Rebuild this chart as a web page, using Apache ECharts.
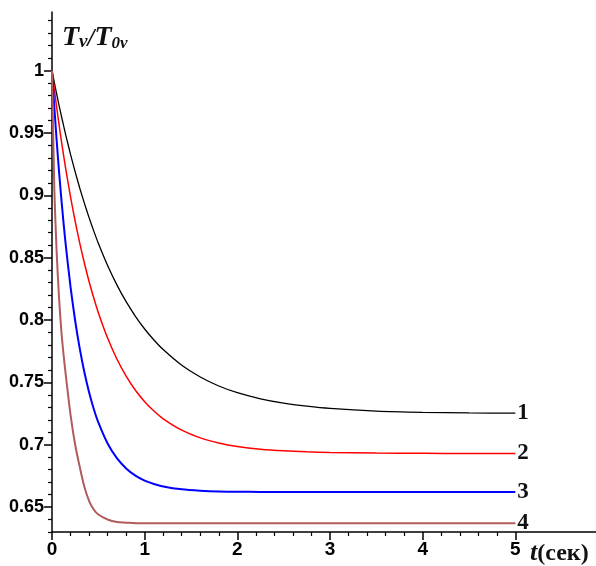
<!DOCTYPE html>
<html>
<head>
<meta charset="utf-8">
<script src="https://cdn.jsdelivr.net/npm/echarts@6/dist/echarts.min.js"></script>
<style>html,body{margin:0;padding:0;background:#fff}#c{width:596px;height:566px}</style>
</head>
<body>
<div id="c"></div>
<script>
// ---- data ----
var tVals  = [0,0.025,0.05,0.075,0.1,0.125,0.15,0.2,0.25,0.3,0.35,0.4,0.45,0.5,0.6,0.7,0.8,0.9,1.0,1.1,1.2,1.4,1.6,1.8,2.0,2.25,2.5,2.75,3.0,3.5,4.0,4.5,5.0];
var curve1 = [1.000,0.9905,0.9814,0.9726,0.9641,0.9559,0.9479,0.9328,0.9188,0.9057,0.8935,0.8821,0.8715,0.8616,0.8437,0.8282,0.8147,0.8030,0.7928,0.7840,0.7763,0.7637,0.7543,0.7471,0.7417,0.7368,0.7333,0.7309,0.7291,0.7270,0.7260,0.7255,0.7253];
var curve2 = [1.000,0.9850,0.9708,0.9572,0.9443,0.9321,0.9204,0.8988,0.8792,0.8615,0.8455,0.8309,0.8178,0.8059,0.7855,0.7687,0.7550,0.7437,0.7345,0.7270,0.7208,0.7117,0.7055,0.7014,0.6986,0.6964,0.6951,0.6943,0.6938,0.6933,0.6931,0.6930,0.6930];
var curve3 = [1.000,0.9709,0.9443,0.9200,0.8978,0.8775,0.8590,0.8265,0.7994,0.7768,0.7579,0.7421,0.7289,0.7179,0.7010,0.6892,0.6810,0.6752,0.6712,0.6685,0.6665,0.6642,0.6631,0.6625,0.6623,0.6621,0.6620,0.6620,0.6620,0.6620,0.6620,0.6620,0.6620];
var curve4 = [1.000,0.905,0.855,0.819,0.792,0.772,0.755,0.724,0.700,0.682,0.666,0.655,0.648,0.644,0.640,0.638,0.6375,0.637,0.637,0.637,0.637,0.637,0.637,0.637,0.637,0.637,0.637,0.637,0.637,0.637,0.637,0.637,0.637];
var curveNames = ['1','2','3','4'];
var xTickLabels = [0,1,2,3,4,5];
var yTickLabels = [0.65,0.7,0.75,0.8,0.85,0.9,0.95,1];

// ---- minor tick positions ----
var xMinor = [];
for (var i = 1; i <= 24; i++) { if (i % 5) xMinor.push(Math.round(i * 0.2 * 100) / 100); }
var yMinor = [];
for (var j = 63; j <= 104; j++) { if (j % 5) yMinor.push(j / 100); }

function pairs(ys) { return tVals.map(function (t, k) { return [t, ys[k]]; }); }

var numFont = "'Liberation Sans Narrow','Arial Narrow','Liberation Sans',Arial,sans-serif";
var serif = "'Liberation Serif','Times New Roman',serif";

var X_MAX = 5.87, Y_MIN = 0.63, Y_MAX = 1.047;
var axisLine = { show: true, onZero: false, lineStyle: { color: '#000', width: 1.5 } };

var colors = ['#000000', '#ff0000', '#0000ff', '#b05c5c'];
var widths = [1.3, 1.5, 2, 2];
var allCurves = [curve1, curve2, curve3, curve4];

function rs(size, italic) {
  return { fontFamily: serif, fontStyle: italic ? 'italic' : 'normal', fontWeight: 'bold', fontSize: size,
           color: '#111', verticalAlign: 'bottom', lineHeight: 30 };
}

var chart = echarts.init(document.getElementById('c'), null, { renderer: 'canvas' });
chart.setOption({
  animation: false,
  backgroundColor: '#fff',
  title: [
    {
      left: 62, top: 22, padding: 0,
      text: '{T|T}{v|v}{s|/}{T|T}{sub|0v}',
      textStyle: { rich: { T: rs(28, true), v: rs(19, true), s: rs(25, true), sub: rs(17, true) } }
    },
    {
      left: 530, top: 536, padding: 0,
      text: '{t|t}{p|(сек)}',
      textStyle: { rich: { t: rs(26, true), p: rs(24, false) } }
    }
  ],
  grid: { left: 52, right: 0, top: 12, bottom: 34, containLabel: false, outerBoundsMode: 'none' },
  xAxis: [
    {
      type: 'value', min: 0, max: X_MAX, position: 'bottom',
      axisLine: axisLine,
      splitLine: { show: false },
      axisTick: { show: true, length: 8, customValues: xTickLabels, lineStyle: { color: '#000', width: 1.5 } },
      axisLabel: {
        customValues: xTickLabels, margin: 8,
        fontFamily: numFont, fontWeight: 'bold', fontSize: 19, color: '#000'
      }
    },
    {
      type: 'value', min: 0, max: X_MAX, position: 'bottom',
      axisLine: { show: false, onZero: false },
      splitLine: { show: false },
      axisTick: { show: true, length: 4, customValues: xMinor, lineStyle: { color: '#000', width: 1.2 } },
      axisLabel: { show: false }
    }
  ],
  yAxis: [
    {
      type: 'value', min: Y_MIN, max: Y_MAX, position: 'left',
      axisLine: axisLine,
      splitLine: { show: false },
      axisTick: { show: true, length: 8, customValues: yTickLabels, lineStyle: { color: '#000', width: 1.5 } },
      axisLabel: {
        customValues: yTickLabels, margin: 8,
        fontFamily: numFont, fontWeight: 'bold', fontSize: 18, color: '#000'
      }
    },
    {
      type: 'value', min: Y_MIN, max: Y_MAX, position: 'left',
      axisLine: { show: false, onZero: false },
      splitLine: { show: false },
      axisTick: { show: true, length: 4, customValues: yMinor, lineStyle: { color: '#000', width: 1.2 } },
      axisLabel: { show: false }
    }
  ],
  series: allCurves.map(function (ys, k) {
    return {
      name: curveNames[k],
      type: 'line',
      xAxisIndex: 0, yAxisIndex: 0,
      data: pairs(ys),
      smooth: 0.25,
      showSymbol: false,
      lineStyle: { color: colors[k], width: widths[k] },
      itemStyle: { color: colors[k] },
      endLabel: {
        show: true, distance: 2,
        formatter: curveNames[k],
        fontFamily: serif, fontWeight: 'bold', fontSize: 23, color: '#111'
      }
    };
  })
});
</script>
</body>
</html>
